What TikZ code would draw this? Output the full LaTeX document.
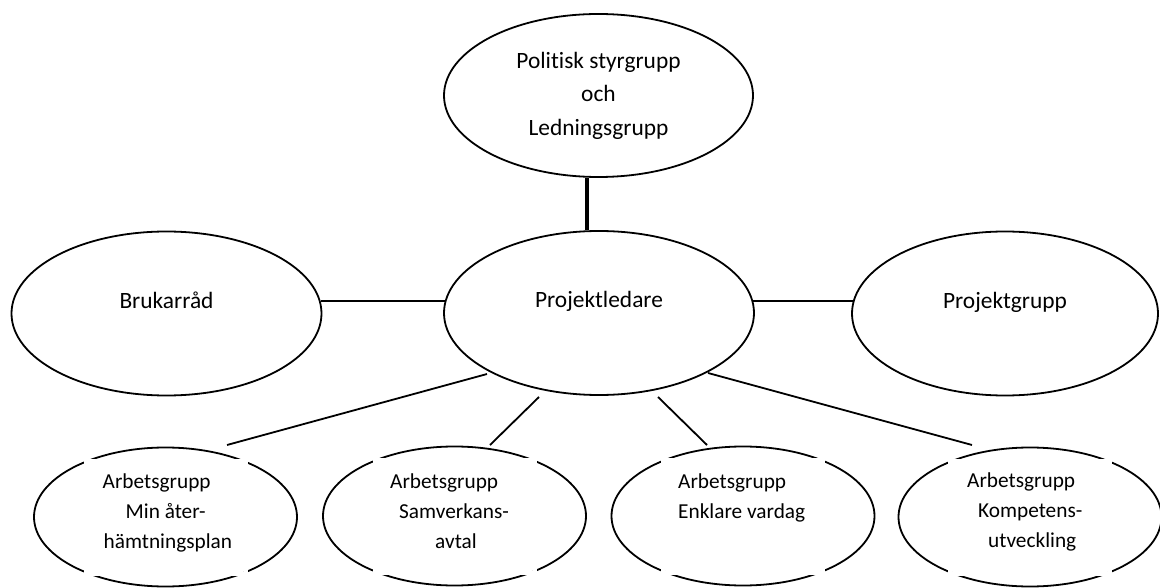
\documentclass[tikz,border=0pt]{standalone}
\usepackage{fontspec}
\setmainfont{Carlito}[Ligatures={NoCommon}]
\usetikzlibrary{shapes.geometric,calc}
\newcommand\bigfnt{\fontsize{23.4}{33.5}\selectfont}
\newcommand\smallfnt{\fontsize{21.3}{30}\selectfont}
\begin{document}
\begin{tikzpicture}[x=1pt,y=-1pt,
  oval/.style={draw, ellipse, line width=1.8pt, inner sep=0pt, minimum width=310pt, minimum height=164pt},
  groupoval/.style={draw, ellipse, line width=1.8pt, inner sep=0pt, minimum width=263pt, minimum height=139pt},
  mask/.style={draw=white, line width=4pt, rectangle, minimum width=160pt, minimum height=113pt, inner sep=0pt},
  link/.style={line width=1.8pt},
  thicklink/.style={line width=4pt},
  single/.style={text height=10pt, text depth=20pt},
  grptext/.style={anchor=base west, inner sep=0pt, font=\smallfnt}]

\useasboundingbox (0,0) rectangle (1160,588);
\fill[white] (0,0) rectangle (1160,588);

\node[oval, align=center, font=\bigfnt, minimum width=309pt, minimum height=163pt] (top) at (598.5,95.5) {Politisk styrgrupp\\och\\Ledningsgrupp};
\node[oval, single, font=\bigfnt] (bruk) at (166.5,313.5) {Brukarråd};
\node[oval, single, font=\bigfnt] (pl) at (599,313) {Projektledare};
\node[oval, single, font=\bigfnt, minimum width=306pt] (pg) at (1005,313.5) {Projektgrupp};

\node[groupoval] (g1) at (165.5,517) {};
\node[mask] (m1) at (g1.center) {};
\node[grptext] (t1) at ($(g1.center)+(-63,-29)$) {\begin{tabular}[t]{@{}l@{}}Arbetsgrupp\\\hspace*{23pt}Min åter-\\\hspace*{1pt}hämtningsplan\end{tabular}};

\node[groupoval] (g2) at (454.5,516) {};
\node[mask] (m2) at (g2.center) {};
\node[grptext] (t2) at ($(g2.center)+(-64.5,-28)$) {\begin{tabular}[t]{@{}l@{}}Arbetsgrupp\\\hspace*{9pt}Samverkans-\\\hspace*{45pt}avtal\end{tabular}};

\node[groupoval] (g3) at (743,516) {};
\node[mask] (m3) at (g3.center) {};
\node[grptext] (t3) at ($(g3.center)+(-65,-28)$) {\begin{tabular}[t]{@{}l@{}}Arbetsgrupp\\Enklare vardag\end{tabular}};

\node[groupoval] (g4) at (1030,517) {};
\node[mask] (m4) at (g4.center) {};
\node[grptext] (t4) at ($(g4.center)+(-63,-30)$) {\begin{tabular}[t]{@{}l@{}}Arbetsgrupp\\\hspace*{11pt}Kompetens-\\\hspace*{21pt}utveckling\end{tabular}};

\draw[thicklink] ($(top.south)+(-11.5,0)$) -- ($(pl.north)+(-12,0)$);
\draw[link] ($(bruk.east)+(-1.5,-12.5)$) -- ($(pl.west)+(1.5,-12)$);
\draw[link] ($(pl.east)+(-1.5,-12)$) -- ($(pg.west)+(1.5,-12.5)$);
\draw[link] ($(pl.center)+(-112,61)$) -- ($(g1.center)+(61.5,-72)$);
\draw[link] ($(pl.center)+(-60,84)$) -- ($(g2.center)+(35.5,-71)$);
\draw[link] ($(pl.center)+(59,84)$) -- ($(g3.center)+(-36,-71)$);
\draw[link] ($(pl.center)+(109,60)$) -- ($(g4.center)+(-58,-72)$);
\end{tikzpicture}
\end{document}
